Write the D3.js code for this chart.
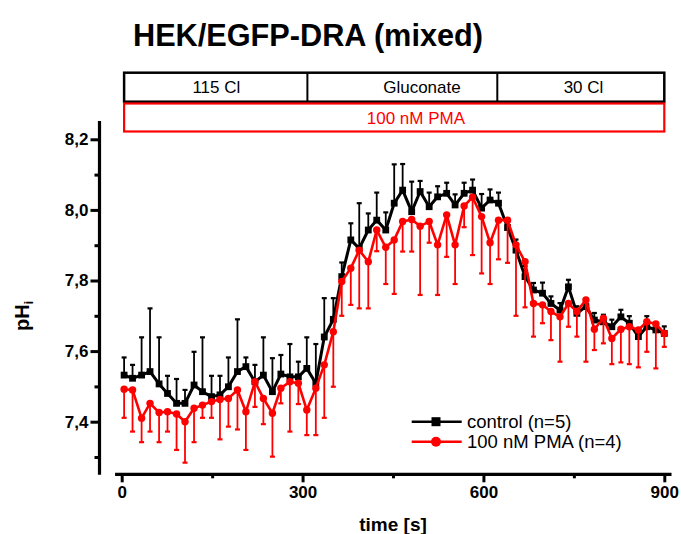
<!DOCTYPE html>
<html><head><meta charset="utf-8">
<script src="https://cdnjs.cloudflare.com/ajax/libs/d3/7.8.5/d3.min.js"></script>
<style>
html,body{margin:0;padding:0;background:#fff;}
svg{display:block;font-family:"Liberation Sans",Arial,Helvetica,sans-serif;}
</style></head>
<body><svg id="c" width="681" height="534"></svg>
<script>
// ---- data ----
const times = [4,18,33,47,62,76,91,105,120,134,149,163,177,192,206,221,235,250,264,279,
  293,307,322,336,351,365,380,394,409,423,438,452,466,481,495,510,524,539,553,568,
  582,597,611,625,640,654,669,683,698,712,727,741,755,770,784,799,813,828,842,857,871,886,900];
const controlMean = [7.532,7.523,7.532,7.542,7.507,7.480,7.452,7.452,7.504,7.485,
  7.471,7.476,7.499,7.542,7.556,7.513,7.532,7.485,7.535,7.527,
  7.527,7.551,7.509,7.640,7.690,7.811,7.915,7.891,7.943,7.971,
  7.943,8.019,8.056,7.995,8.052,8.009,8.037,8.047,8.014,8.047,
  8.056,8.005,8.028,8.019,7.950,7.886,7.811,7.773,7.764,7.735,
  7.716,7.782,7.707,7.726,7.688,7.683,7.669,7.697,7.679,7.641,
  7.669,7.660,7.650];
const controlErr = [.050,.038,.107,.179,.132,.050,.069,.038,.094,.154,
  .059,.054,.083,.148,.026,.048,.107,.095,.054,.093,
  .043,.088,.111,.110,.060,.040,.047,.128,.047,.078,
  .050,.110,.074,.085,.030,.040,.030,.030,.030,.030,
  .030,.040,.030,.030,.020,.030,.030,.020,.030,.020,
  .020,.020,.020,.020,.020,.020,.020,.020,.020,.020,
  .030,.020,.020];
const pmaMean = [7.492,7.490,7.410,7.452,7.426,7.428,7.422,7.400,7.438,7.447,
  7.457,7.463,7.466,7.490,7.428,7.513,7.466,7.424,7.495,7.513,
  7.509,7.433,7.495,7.561,7.655,7.797,7.835,7.886,7.853,7.943,
  7.894,7.915,7.967,7.973,7.954,7.967,7.901,7.986,7.901,8.011,
  8.036,7.981,7.907,7.971,7.971,7.901,7.853,7.735,7.731,7.712,
  7.697,7.735,7.712,7.745,7.662,7.693,7.636,7.662,7.669,7.660,
  7.683,7.677,7.650];
const pmaErr = [.081,.118,.068,.080,.084,.056,.102,.116,.096,.036,
  .046,.113,.080,.112,.108,.071,.073,.123,.043,.141,
  .059,.071,.133,.150,.156,.097,.104,.165,.132,.060,
  .104,.153,.085,.091,.195,.060,.142,.119,.111,.060,
  .164,.161,.117,.111,.121,.201,.129,.094,.052,.081,
  .127,.066,.071,.175,.059,.071,.073,.094,.106,.106,
  .085,.126,.038];
const solutionBounds = [4, 308, 623, 900];
const solutionLabels = ["115 Cl", "Gluconate", "30 Cl"];
const solutionLabelTimes = [157, 498, 766];
const drugLabel = "100 nM PMA";
const drugLabelTime = 488;
const xMajor = [0, 300, 600, 900];
const xMajorLabels = ["0", "300", "600", "900"];
const xMinor = [150, 450, 750];
const yMajor = [7.4, 7.6, 7.8, 8.0, 8.2];
const yMajorLabels = ["7,4", "7,6", "7,8", "8,0", "8,2"];
const yMinor = [7.3, 7.5, 7.7, 7.9, 8.1];
const xAxisExtent = [-11, 912];
const yAxisExtent = [7.25, 8.252];
const seriesNames = ["control (n=5)", "100 nM PMA (n=4)"];
const titleText = "HEK/EGFP-DRA (mixed)";

// ---- scales ----
const x = d3.scaleLinear().domain([0, 900]).range([121.7, 664.3]);
const y = d3.scaleLinear().domain([7.4, 8.2]).range([421.7, 139.3]);
const svg = d3.select("#c");
const FONT = '"Liberation Sans",Arial,Helvetica,sans-serif';

// title
svg.append("text").attr("x", 133).attr("y", 46).attr("font-size", 30.5).attr("font-weight", "bold")
  .attr("fill", "#000").attr("textLength", 350).attr("lengthAdjust", "spacingAndGlyphs").text(titleText);

// solution boxes
svg.append("rect").attr("x", x(solutionBounds[0])).attr("y", 72.7)
  .attr("width", x(solutionBounds[3]) - x(solutionBounds[0])).attr("height", 29)
  .attr("fill", "none").attr("stroke", "#000").attr("stroke-width", 2.5);
solutionBounds.slice(1, 3).forEach(b => {
  svg.append("line").attr("x1", x(b)).attr("x2", x(b)).attr("y1", 72.7).attr("y2", 101.7)
    .attr("stroke", "#000").attr("stroke-width", 2);
});
solutionLabels.forEach((s, i) => {
  svg.append("text").attr("x", x(solutionLabelTimes[i])).attr("y", 93).attr("text-anchor", "middle")
    .attr("font-size", 17).attr("fill", "#000").text(s);
});
svg.append("rect").attr("x", x(solutionBounds[0])).attr("y", 103.5)
  .attr("width", x(solutionBounds[3]) - x(solutionBounds[0])).attr("height", 28)
  .attr("fill", "none").attr("stroke", "#ff0000").attr("stroke-width", 2.2);
svg.append("text").attr("x", x(drugLabelTime)).attr("y", 123.5).attr("text-anchor", "middle")
  .attr("font-size", 17).attr("fill", "#ff0000").text(drugLabel);

// axes
const axisY = 474.3, axisX = 99.5;
const gx = svg.append("g").attr("transform", `translate(0,${axisY})`)
  .call(d3.axisBottom(x).tickValues(xMajor).tickFormat((d, i) => xMajorLabels[i]).tickSize(8).tickPadding(4));
const gxm = svg.append("g").attr("transform", `translate(0,${axisY})`)
  .call(d3.axisBottom(x).tickValues(xMinor).tickFormat("").tickSize(4));
const gy = svg.append("g").attr("transform", `translate(${axisX},0)`)
  .call(d3.axisLeft(y).tickValues(yMajor).tickFormat((d, i) => yMajorLabels[i]).tickSize(9).tickPadding(2));
const gym = svg.append("g").attr("transform", `translate(${axisX},0)`)
  .call(d3.axisLeft(y).tickValues(yMinor).tickFormat("").tickSize(5));
[gx, gxm, gy, gym].forEach(g => {
  g.select(".domain").remove();
  g.selectAll("line").attr("stroke", "#000").attr("stroke-width", 3);
  g.selectAll("text").attr("font-size", 17).attr("font-weight", "bold").attr("fill", "#000")
    .attr("font-family", FONT);
});
svg.append("line").attr("x1", x(xAxisExtent[0])).attr("x2", x(xAxisExtent[1]))
  .attr("y1", axisY).attr("y2", axisY).attr("stroke", "#000").attr("stroke-width", 3.2);
svg.append("line").attr("x1", axisX).attr("x2", axisX)
  .attr("y1", y(yAxisExtent[0])).attr("y2", y(yAxisExtent[1])).attr("stroke", "#000").attr("stroke-width", 3.2);

// axis titles
svg.append("text").attr("x", x(450)).attr("y", 531).attr("text-anchor", "middle")
  .attr("font-size", 19).attr("font-weight", "bold").attr("fill", "#000").text("time [s]");
const yl = svg.append("text").attr("transform", "translate(29,316) rotate(-90)")
  .attr("text-anchor", "middle").attr("font-size", 20).attr("font-weight", "bold").attr("fill", "#000");
yl.append("tspan").text("pH");
yl.append("tspan").attr("font-size", 12).attr("dy", 4).text("i");

// series
function drawSeries(mean, err, color, dir, marker, lw) {
  const data = times.map((t, i) => ({ t, v: mean[i], e: err[i] }));
  const g = svg.append("g");
  g.selectAll("line.eb").data(data).enter().append("line")
    .attr("x1", d => x(d.t)).attr("x2", d => x(d.t))
    .attr("y1", d => y(d.v)).attr("y2", d => y(d.v + dir * d.e))
    .attr("stroke", color).attr("stroke-width", 1.8);
  g.selectAll("line.cap").data(data).enter().append("line")
    .attr("x1", d => x(d.t) - 2.5).attr("x2", d => x(d.t) + 2.5)
    .attr("y1", d => y(d.v + dir * d.e)).attr("y2", d => y(d.v + dir * d.e))
    .attr("stroke", color).attr("stroke-width", 2.2);
  g.append("path").datum(data)
    .attr("d", d3.line().x(d => x(d.t)).y(d => y(d.v)))
    .attr("fill", "none").attr("stroke", color).attr("stroke-width", lw).attr("stroke-linejoin", "round");
  if (marker === "square") {
    g.selectAll("rect.m").data(data).enter().append("rect")
      .attr("x", d => x(d.t) - 3.4).attr("y", d => y(d.v) - 3.4).attr("width", 6.8).attr("height", 6.8)
      .attr("fill", color);
  } else {
    g.selectAll("circle.m").data(data).enter().append("circle")
      .attr("cx", d => x(d.t)).attr("cy", d => y(d.v)).attr("r", 3.7).attr("fill", color);
  }
}
drawSeries(controlMean, controlErr, "#000", 1, "square", 3);
drawSeries(pmaMean, pmaErr, "#ff0000", -1, "circle", 2.6);

// legend
const legendItems = [
  { name: seriesNames[0], color: "#000", marker: "square", yy: 421.7 },
  { name: seriesNames[1], color: "#ff0000", marker: "circle", yy: 441.7 }
];
legendItems.forEach(it => {
  svg.append("line").attr("x1", 411.7).attr("x2", 461.7).attr("y1", it.yy).attr("y2", it.yy)
    .attr("stroke", it.color).attr("stroke-width", 2.6);
  if (it.marker === "square") {
    svg.append("rect").attr("x", 436 - 4.5).attr("y", it.yy - 4.5).attr("width", 9).attr("height", 9).attr("fill", it.color);
  } else {
    svg.append("circle").attr("cx", 436).attr("cy", it.yy).attr("r", 5).attr("fill", it.color);
  }
  svg.append("text").attr("x", 467).attr("y", it.yy + 6.5).attr("font-size", 18.5).attr("fill", "#000").text(it.name);
});
</script></body></html>
